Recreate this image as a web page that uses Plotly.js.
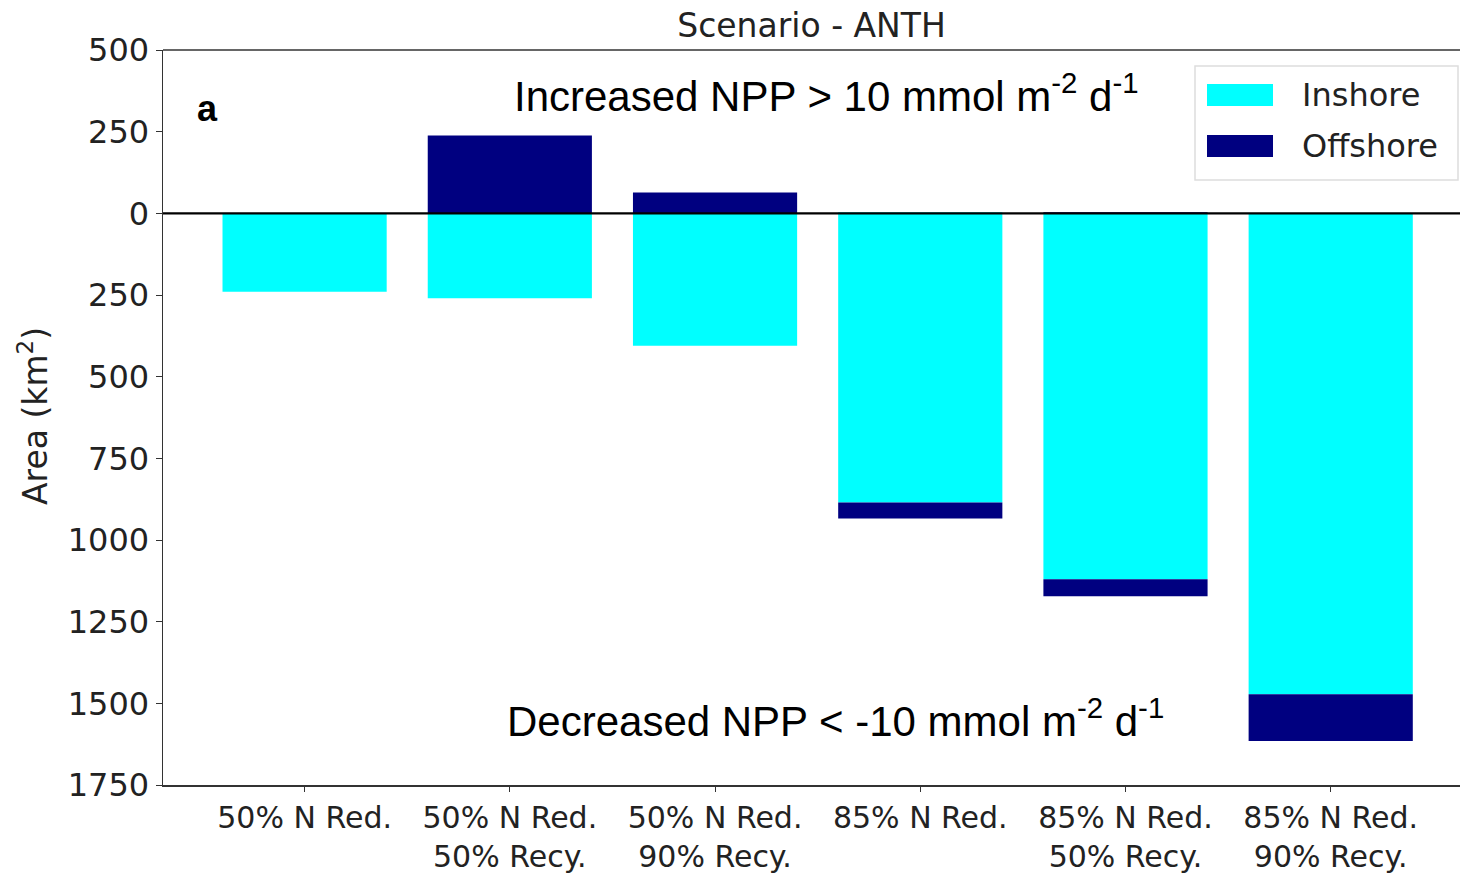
<!DOCTYPE html>
<html>
<head>
<meta charset="utf-8">
<script src="https://cdn.plot.ly/plotly-3.0.1.min.js"></script>
<style>html,body{margin:0;padding:0;background:#fff;}#chart{width:1460px;height:874px;}</style>
</head>
<body>
<div id="chart"></div>
<script>
const categories = ["50% N Red.", "50% N Red.<br>50% Recy.", "50% N Red.<br>90% Recy.", "85% N Red.", "85% N Red.<br>50% Recy.", "85% N Red.<br>90% Recy."];
const inshoreIncrease = [0, 0, 0, 3, 0, 0];
const offshoreIncrease = [0, 238, 64, 0, 3, 0];
const inshoreDecrease = [-240, -260, -405, -885, -1120, -1472];
const offshoreDecrease = [0, 0, 0, -49, -52, -143];
const yTickVals = [500, 250, 0, -250, -500, -750, -1000, -1250, -1500, -1750];
const yTickText = ["500", "250", "0", "250", "500", "750", "1000", "1250", "1500", "1750"];
const seriesNames = ["Inshore", "Offshore"];
const colors = {inshore: "#00FFFF", offshore: "#000080"};

const idx = categories.map((c, i) => i);
function bar(y, color, name) {
  return {type: "bar", x: idx, y: y, name: name, width: 0.8,
    marker: {color: color, line: {width: 0}}, showlegend: false, hoverinfo: "y"};
}
const traces = [
  bar(inshoreIncrease, colors.inshore, seriesNames[0]),
  bar(inshoreDecrease, colors.inshore, seriesNames[0]),
  bar(offshoreIncrease, colors.offshore, seriesNames[1]),
  bar(offshoreDecrease, colors.offshore, seriesNames[1])
];

const W = 1297, H = 735, L = 163, T = 50;
const px = x => (x - L) / W;
const py = y => (T + H - y) / H;
const sansA = "Liberation Sans, Arial, Helvetica, sans-serif";

const layout = {
  width: 1460, height: 874,
  margin: {l: L, r: 0, t: T, b: 874 - T - H},
  paper_bgcolor: "#fff", plot_bgcolor: "#fff",
  barmode: "relative",
  font: {family: "DejaVu Sans", color: "#222"},
  title: {text: "Scenario - ANTH", font: {family: "DejaVu Sans", size: 33, color: "#222"},
    x: 0.5, xref: "paper", y: 1 - 25 / 874, yanchor: "middle"},
  xaxis: {range: [-0.69, 5.63], tickvals: idx, ticktext: categories,
    showline: true, linecolor: "#333", linewidth: 1.5, ticks: "outside", ticklen: 5,
    tickcolor: "#333", showgrid: false, zeroline: false,
    tickfont: {family: "DejaVu Sans", size: 30, color: "#222"}},
  yaxis: {range: [-1750, 500], tickvals: yTickVals, ticktext: yTickText,
    showline: true, linecolor: "#333", linewidth: 1.5, ticks: "outside", ticklen: 6,
    tickcolor: "#333", showgrid: false, zeroline: false,
    tickfont: {family: "DejaVu Sans", size: 32, color: "#222"}},
  shapes: [
    {type: "line", xref: "paper", yref: "paper", x0: 0, x1: 1, y0: 1, y1: 1,
      line: {color: "#333", width: 1.5}},
    {type: "line", xref: "paper", yref: "y", x0: 0, x1: 1, y0: 0, y1: 0,
      line: {color: "#000", width: 2.4}, layer: "above"},
    {type: "rect", xref: "paper", yref: "paper", x0: px(1195), x1: px(1458), y0: py(180), y1: py(66),
      line: {color: "#ddd", width: 1.5}, fillcolor: "rgba(255,255,255,0.8)", layer: "above"},
    {type: "rect", xref: "paper", yref: "paper", x0: px(1207), x1: px(1273), y0: py(106), y1: py(84),
      line: {width: 0}, fillcolor: colors.inshore, layer: "above"},
    {type: "rect", xref: "paper", yref: "paper", x0: px(1207), x1: px(1273), y0: py(157), y1: py(135),
      line: {width: 0}, fillcolor: colors.offshore, layer: "above"}
  ],
  annotations: [
    {text: seriesNames[0], xref: "paper", yref: "paper", x: px(1300), y: py(95), xanchor: "left", yanchor: "middle",
      showarrow: false, font: {family: "DejaVu Sans", size: 32, color: "#222"}},
    {text: seriesNames[1], xref: "paper", yref: "paper", x: px(1300), y: py(146), xanchor: "left", yanchor: "middle",
      showarrow: false, font: {family: "DejaVu Sans", size: 32, color: "#222"}},
    {text: "a", xref: "paper", yref: "paper", x: px(207), y: py(108), xanchor: "center", yanchor: "middle",
      showarrow: false, font: {family: sansA, size: 36, weight: 700, color: "#000"}},
    {text: "Increased NPP > 10 mmol m<sup>-2</sup> d<sup>-1</sup>", xref: "paper", yref: "paper",
      x: px(826), y: py(93), xanchor: "center", yanchor: "middle",
      showarrow: false, font: {family: sansA, size: 42, color: "#000"}},
    {text: "Decreased NPP < -10 mmol m<sup>-2</sup> d<sup>-1</sup>", xref: "paper", yref: "paper",
      x: px(836), y: py(718), xanchor: "center", yanchor: "middle",
      showarrow: false, font: {family: sansA, size: 42, color: "#000"}},
    {text: "Area (km<sup>2</sup>)", xref: "paper", yref: "paper", x: px(33), y: py(416),
      xanchor: "center", yanchor: "middle", textangle: -90,
      showarrow: false, font: {family: "DejaVu Sans", size: 33, color: "#222"}}
  ]
};

Plotly.newPlot("chart", traces, layout, {displayModeBar: false, staticPlot: true});
</script>
</body>
</html>
